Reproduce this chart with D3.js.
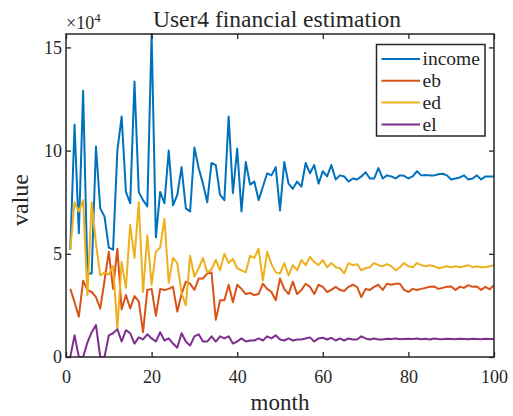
<!DOCTYPE html>
<html lang="en">

<head>
  <meta charset="utf-8">
  <title>User4 financial estimation</title>
  <script src="https://cdn.jsdelivr.net/npm/d3@7"></script>
  <style>
    html, body { margin: 0; padding: 0; background: #fff; overflow: hidden; }
    svg { display: block; }
    text { font-family: "Liberation Serif", "Times New Roman", serif; fill: #262626; }
  </style>
</head>

<body>
  <script>

    // values are in units of 10^4
    var months = d3.range(1, 101);

    var income = [5.2, 11.25, 6.0, 12.9, 4.05, 4.05, 10.2, 7.2, 6.8, 5.3,
      5.2, 10.0, 11.65, 8.0, 7.45, 13.35, 8.0, 7.6, 7.3, 15.65,
      5.8, 8.0, 7.45, 10.0, 7.35, 7.85, 9.2, 7.2, 7.05, 10.15,
      9.15, 8.4, 7.5, 9.4, 9.3, 7.85, 7.6, 11.65, 7.95, 10.1,
      7.05, 9.45, 8.35, 8.5, 7.6, 8.25, 8.9, 8.8, 9.2, 7.1,
      9.45, 8.4, 8.15, 8.5, 8.25, 9.4, 8.9, 9.3, 8.4, 9.0,
      8.75, 9.3, 8.6, 8.8, 8.75, 8.5, 8.65, 8.6, 8.75, 8.95,
      8.65, 8.65, 9.15, 8.65, 8.8, 8.75, 8.65, 8.8, 8.78, 8.65,
      8.75, 9.0, 8.8, 8.82, 8.8, 8.8, 8.85, 8.88, 8.8, 8.6,
      8.65, 8.7, 8.8, 8.6, 8.65, 8.8, 8.6, 8.75, 8.75, 8.75];

    var eb = [3.3, 2.65, 1.95, 3.7, 3.25, 3.15, 2.9, 2.35, 3.7, 5.1,
      3.3, 5.25, 2.3, 3.0, 2.35, 2.95, 2.7, 1.2, 3.25, 3.3,
      2.0, 3.3, 3.25, 3.3, 3.4, 2.2, 3.05, 3.65, 3.55, 3.25,
      3.8, 3.8, 4.05, 4.1, 1.8, 2.75, 2.75, 3.5, 2.65, 3.5,
      3.3, 3.05, 3.1, 3.0, 3.05, 3.55, 3.3, 3.15, 2.75, 3.8,
      3.3, 3.05, 3.65, 3.05, 3.25, 3.55, 3.4, 3.05, 3.5, 3.4,
      3.15, 3.25, 3.4, 3.25, 3.2, 3.4, 3.5, 3.4, 2.9, 3.3,
      3.25, 3.4, 3.5, 3.25, 3.55, 3.5, 3.55, 3.55, 3.25, 3.15,
      3.3, 3.25, 3.3, 3.35, 3.4, 3.42, 3.3, 3.35, 3.4, 3.42,
      3.25, 3.4, 3.35, 3.48, 3.4, 3.42, 3.25, 3.4, 3.28, 3.48];

    var ed = [5.2, 7.5, 7.05, 7.6, 3.0, 7.5, 5.5, 3.95, 4.1, 4.0,
      4.4, 1.4, 4.6, 3.35, 6.4, 4.8, 7.5, 3.15, 5.9, 3.5,
      5.1, 5.3, 6.7, 3.6, 4.8, 4.55, 3.1, 2.5, 4.9, 3.9,
      4.3, 4.8, 4.1, 4.25, 4.7, 4.2, 5.0, 4.55, 4.75, 4.3,
      4.2, 4.1, 4.9, 4.8, 5.25, 3.7, 5.1, 4.5, 4.1, 4.05,
      4.55, 3.95, 4.45, 4.2, 4.7, 4.45, 4.85, 4.6, 4.45, 4.7,
      4.35, 4.55, 4.35, 4.3, 4.05, 4.55, 4.45, 4.5, 4.2, 4.3,
      4.35, 4.55, 4.45, 4.4, 4.5, 4.4, 4.2, 4.35, 4.55, 4.4,
      4.35, 4.55, 4.45, 4.4, 4.45, 4.4, 4.3, 4.35, 4.4, 4.35,
      4.4, 4.35, 4.4, 4.45, 4.35, 4.4, 4.35, 4.35, 4.4, 4.45];

    var el = [0, 1.05, 0, 0, 0.7, 1.2, 1.55, 0, 0, 1.05,
      1.15, 1.35, 0.75, 1.3, 1.15, 0.65, 0.95, 0.85, 1.1, 0.9,
      0.75, 1.2, 0.8, 0.9, 0.65, 0.45, 1.15, 0.75, 0.55, 1.0,
      1.1, 0.75, 0.75, 1.0, 0.75, 1.0, 0.9, 1.0, 0.65, 0.75,
      0.9, 0.75, 0.8, 0.8, 0.9, 0.8, 1.0, 0.9, 1.05, 0.85,
      0.8, 0.9, 0.8, 0.85, 0.85, 0.9, 0.95, 0.75, 0.9, 0.93,
      0.85, 0.93, 0.8, 0.9, 0.8, 0.9, 0.85, 0.85, 1.0, 0.9,
      0.85, 0.9, 0.85, 0.85, 0.88, 0.87, 0.9, 0.86, 0.87, 0.88,
      0.87, 0.9, 0.86, 0.88, 0.85, 0.9, 0.87, 0.86, 0.88, 0.87,
      0.86, 0.88, 0.87, 0.86, 0.88, 0.87, 0.86, 0.88, 0.87, 0.87];

    var seriesNames = ["income", "eb", "ed", "el"];
    var seriesColors = ["#0072BD", "#D95319", "#EDB120", "#7E2F8E"];
    var xTicks = [0, 20, 40, 60, 80, 100];
    var yTicks = [0, 5, 10, 15];

    var w = 513;
    var h = 416;
    var margin = { left: 66, right: 19, top: 34, bottom: 59 };
    var axisColor = "#262626";
    var serif = "'Liberation Serif', 'Times New Roman', serif";

    var svg = d3.select("body")
      .append("svg")
      .attr("width", w)
      .attr("height", h);

    // scales
    var xScale = d3.scaleLinear()
      .domain([0, 100])
      .range([margin.left, w - margin.right]);

    var yScale = d3.scaleLinear()
      .domain([0, d3.max(income)])
      .range([h - margin.bottom, margin.top]);

    var x0 = xScale.range()[0], x1 = xScale.range()[1];
    var y0 = yScale.range()[0], y1 = yScale.range()[1];

    // lines
    var allSeries = [income, eb, ed, el];

    var line = d3.line()
      .x(function (d, i) { return xScale(months[i]); })
      .y(function (d) { return yScale(d); });

    svg.append("defs").append("clipPath")
      .attr("id", "plotClip")
      .append("rect")
      .attr("x", x0).attr("y", y1 - 1)
      .attr("width", x1 - x0).attr("height", y0 - y1 + 1);

    svg.append("g")
      .attr("clip-path", "url(#plotClip)")
      .selectAll("path")
      .data(allSeries)
      .enter()
      .append("path")
      .attr("d", line)
      .attr("fill", "none")
      .attr("stroke", function (d, i) { return seriesColors[i]; })
      .attr("stroke-width", 2)
      .attr("stroke-linejoin", "round");

    // axes (ticks pointing inward, like matlab)
    var xAxis = d3.axisBottom(xScale)
      .tickValues(xTicks)
      .tickSizeInner(-5)
      .tickSizeOuter(0)
      .tickPadding(13);

    var xAxisTop = d3.axisTop(xScale)
      .tickValues(xTicks)
      .tickSizeInner(-5)
      .tickSizeOuter(0)
      .tickFormat("");

    var yAxis = d3.axisLeft(yScale)
      .tickValues(yTicks)
      .tickSizeInner(-5)
      .tickSizeOuter(0)
      .tickPadding(4);

    var yAxisRight = d3.axisRight(yScale)
      .tickValues(yTicks)
      .tickSizeInner(-5)
      .tickSizeOuter(0)
      .tickFormat("");

    function styleAxis(g) {
      g.attr("font-family", serif).attr("font-size", 18);
      g.select(".domain").remove();
      g.selectAll(".tick line").attr("stroke", axisColor).attr("stroke-width", 1.3);
      g.selectAll(".tick text")
        .attr("fill", axisColor)
        .style("font-family", serif)
        .style("font-size", "18px");
    }

    svg.append("g")
      .attr("class", "x axis")
      .attr("transform", "translate(0," + y0 + ")")
      .call(xAxis)
      .call(styleAxis);

    svg.append("g")
      .attr("transform", "translate(0," + y1 + ")")
      .call(xAxisTop)
      .call(styleAxis);

    svg.append("g")
      .attr("class", "y axis")
      .attr("transform", "translate(" + x0 + ",0)")
      .call(yAxis)
      .call(styleAxis);

    svg.append("g")
      .attr("transform", "translate(" + x1 + ",0)")
      .call(yAxisRight)
      .call(styleAxis);

    // box
    svg.append("rect")
      .attr("x", x0)
      .attr("y", y1)
      .attr("width", x1 - x0)
      .attr("height", y0 - y1)
      .attr("fill", "none")
      .attr("stroke", axisColor)
      .attr("stroke-width", 1.5);

    // exponent label
    var expo = svg.append("text")
      .attr("x", x0)
      .attr("y", 29)
      .style("font-size", "18px");
    expo.append("tspan").text("\u00d710");
    expo.append("tspan")
      .attr("dy", -7)
      .style("font-size", "13px")
      .text("4");

    // title
    svg.append("text")
      .attr("x", 277)
      .attr("y", 27)
      .attr("text-anchor", "middle")
      .style("font-size", "23.5px")
      .text("User4 financial estimation");

    // x axis label
    svg.append("text")
      .attr("x", (x0 + x1) / 2)
      .attr("y", 410)
      .attr("text-anchor", "middle")
      .style("font-size", "23px")
      .text("month");

    // y axis label
    svg.append("text")
      .attr("transform", "translate(28," + 200 + ") rotate(-90)")
      .attr("text-anchor", "middle")
      .style("font-size", "24px")
      .text("value");

    // legend
    var legend = svg.append("g");

    legend.append("rect")
      .attr("x", 376.5)
      .attr("y", 44.5)
      .attr("width", 108.5)
      .attr("height", 91.5)
      .attr("fill", "#fff")
      .attr("stroke", axisColor)
      .attr("stroke-width", 1.5);

    var rows = legend.selectAll(".row")
      .data(seriesNames)
      .enter()
      .append("g")
      .attr("class", "row")
      .attr("transform", function (d, i) {
        return "translate(0," + (59 + i * 21.8) + ")";
      });

    rows.append("line")
      .attr("x1", 381.5)
      .attr("x2", 420)
      .attr("stroke", function (d, i) { return seriesColors[i]; })
      .attr("stroke-width", 2);

    rows.append("text")
      .attr("x", 422.5)
      .attr("dy", "0.33em")
      .style("font-size", "19.5px")
      .text(function (d) { return d; });

  </script>
</body>

</html>
